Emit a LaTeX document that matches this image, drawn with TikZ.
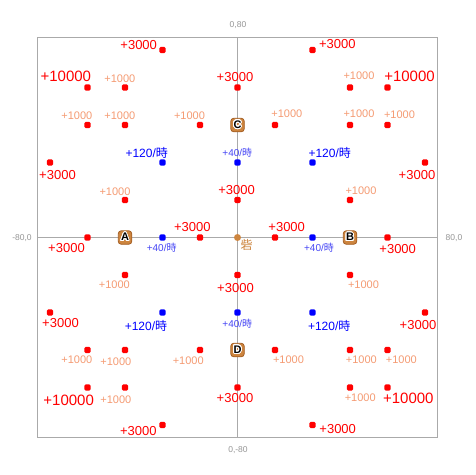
\documentclass[tikz,border=0pt]{standalone}
\usepackage{fontspec}
\usepackage{contour}
\contourlength{0.9pt}
\contournumber{24}
\setmainfont{Liberation Sans}
\newfontfamily\cjk{Noto Sans CJK JP}
\definecolor{dotred}{RGB}{255,0,0}
\definecolor{salmon}{RGB}{245,155,115}
\definecolor{bblue}{RGB}{0,0,255}
\definecolor{lblue}{RGB}{70,70,245}
\definecolor{fort}{RGB}{205,133,63}
\definecolor{fortdark}{RGB}{165,95,35}
\definecolor{axgray}{RGB}{170,170,170}
\definecolor{labgray}{RGB}{150,150,150}
\begin{document}
\begin{tikzpicture}[x=1pt,y=-1pt,
  framebox/.style={draw=axgray,line width=1.3pt,minimum width=400pt,minimum height=400pt,inner sep=0pt,outer sep=0pt},
  axisline/.style={draw=axgray,line width=1.3pt},
  axlab/.style={text=labgray,font=\fontsize{8.5}{9}\selectfont,inner sep=0pt},
  rdot/.style={fill=dotred,rounded corners=1.5pt,minimum size=6.3pt,inner sep=0pt},
  bdot/.style={fill=bblue,rounded corners=1.5pt,minimum size=6.3pt,inner sep=0pt},
  cdot/.style={fill=fort,circle,minimum size=7pt,inner sep=0pt},
  marker/.style={fill=fort,draw=fortdark,line width=0.8pt,rounded corners=3pt,minimum size=13.5pt,inner sep=0pt,font=\bfseries\fontsize{11}{11}\selectfont},
  big/.style={text=dotred,font=\fontsize{15}{15}\selectfont,inner sep=0pt},
  mid/.style={text=dotred,font=\fontsize{13}{13}\selectfont,inner sep=0pt},
  small/.style={text=salmon,font=\fontsize{11}{11}\selectfont,inner sep=0pt},
  rate/.style={text=bblue,font=\fontsize{12}{12}\selectfont,inner sep=0pt},
  slow/.style={text=lblue,font=\fontsize{10}{10}\selectfont,inner sep=0pt},
  fortlab/.style={text=fort,font=\cjk\fontsize{12}{12}\selectfont,inner sep=0pt}]
\useasboundingbox (0,0) rectangle (475,475);
\fill[white] (0,0) rectangle (475,475);
\node[framebox] (frame) at (237.5,237.5) {};
\draw[axisline] (frame.north) -- (frame.south);
\draw[axisline] (frame.west) -- (frame.east);
\node[axlab] (ltop) at (238,25) {0,80};
\node[axlab] (lbot) at (238,450) {0,-80};
\node[axlab] (lleft) at (22,238) {-80,0};
\node[axlab] (lright) at (454,238) {80,0};
% red dots
\foreach \n/\x/\y in {1/162.5/50,2/312.5/50,
  3/87.5/87.5,4/125/87.5,5/237.5/87.5,6/350/87.5,7/387.5/87.5,
  8/87.5/125,9/125/125,10/200/125,11/275/125,12/350/125,13/387.5/125,
  14/50/162.5,15/425/162.5,
  16/125/200,17/237.5/200,18/350/200,
  19/87.5/237.5,20/200/237.5,21/275/237.5,22/387.5/237.5,
  23/125/275,24/237.5/275,25/350/275,
  26/50/312.5,27/425/312.5,
  28/87.5/350,29/125/350,30/200/350,31/275/350,32/350/350,33/387.5/350,
  34/87.5/387.5,35/125/387.5,36/237.5/387.5,37/350/387.5,38/387.5/387.5,
  39/162.5/425,40/312.5/425}
  \node[rdot] (r\n) at (\x,\y) {};
% blue dots
\foreach \n/\x/\y in {1/162.5/162.5,2/237.5/162.5,3/312.5/162.5,
  4/162.5/237.5,5/312.5/237.5,
  6/162.5/312.5,7/237.5/312.5,8/312.5/312.5}
  \node[bdot] (b\n) at (\x,\y) {};
\node[cdot] (fortdot) at (237.5,237.5) {};
% labels
\node[mid] (t1) at (138.7,45.5) {+3000};
\node[mid] (t2) at (337.3,44.3) {+3000};
\node[big] (t3) at (65.8,76.3) {+10000};
\node[small] (t4) at (119.8,78.8) {+1000};
\node[mid] (t5) at (235,76.7) {+3000};
\node[small] (t6) at (359,75.8) {+1000};
\node[big] (t7) at (409.5,76.3) {+10000};
\node[small] (t8) at (76.8,115.5) {+1000};
\node[small] (t9) at (119.8,115.5) {+1000};
\node[small] (t10) at (189.5,115.5) {+1000};
\node[small] (t11) at (286.8,114.2) {+1000};
\node[small] (t12) at (359,114.2) {+1000};
\node[small] (t13) at (399.5,115.2) {+1000};
\node[rate] (t14) at (146.7,152.5) {+120/{\cjk 時}};
\node[slow] (t15) at (237.3,152.7) {+40/{\cjk 時}};
\node[rate] (t16) at (329.7,152.5) {+120/{\cjk 時}};
\node[mid] (t17) at (57.5,174.7) {+3000};
\node[mid] (t18) at (417,175) {+3000};
\node[small] (t19) at (115,191.3) {+1000};
\node[mid] (t20) at (236.6,190) {+3000};
\node[small] (t21) at (361,190.8) {+1000};
\node[mid] (t22) at (192.3,226.7) {+3000};
\node[mid] (t23) at (286.7,226.7) {+3000};
\node[mid] (t24) at (66.5,247.7) {+3000};
\node[slow] (t25) at (161.7,247.8) {+40/{\cjk 時}};
\node[slow] (t26) at (319,247.8) {+40/{\cjk 時}};
\node[mid] (t27) at (397.7,249.3) {+3000};
\node[fortlab] (t28) at (246.7,244.7) {砦};
\node[small] (t29) at (114.3,285.2) {+1000};
\node[mid] (t30) at (235.5,288) {+3000};
\node[small] (t31) at (363.5,285.2) {+1000};
\node[mid] (t32) at (60.5,323.3) {+3000};
\node[rate] (t33) at (146,325.5) {+120/{\cjk 時}};
\node[slow] (t34) at (237.3,323.7) {+40/{\cjk 時}};
\node[rate] (t35) at (329.2,325.5) {+120/{\cjk 時}};
\node[mid] (t36) at (418,325) {+3000};
\node[small] (t37) at (76.8,360) {+1000};
\node[small] (t38) at (115.8,361.3) {+1000};
\node[small] (t39) at (188.2,361) {+1000};
\node[small] (t40) at (288.5,359.8) {+1000};
\node[small] (t41) at (361.3,359.8) {+1000};
\node[small] (t42) at (401.3,359.8) {+1000};
\node[big] (t43) at (68.7,400) {+10000};
\node[small] (t44) at (115.8,400.2) {+1000};
\node[mid] (t45) at (235,398.3) {+3000};
\node[small] (t46) at (360.2,398.2) {+1000};
\node[big] (t47) at (408.3,398) {+10000};
\node[mid] (t48) at (138.3,431) {+3000};
\node[mid] (t49) at (337.7,429.3) {+3000};
% markers
\node[marker] (A) at (125,237.5) {\contour{white}{A}};
\node[marker] (B) at (350,237.5) {\contour{white}{B}};
\node[marker] (C) at (237.5,125) {\contour{white}{C}};
\node[marker] (D) at (237.5,350) {\contour{white}{D}};
\end{tikzpicture}
\end{document}
